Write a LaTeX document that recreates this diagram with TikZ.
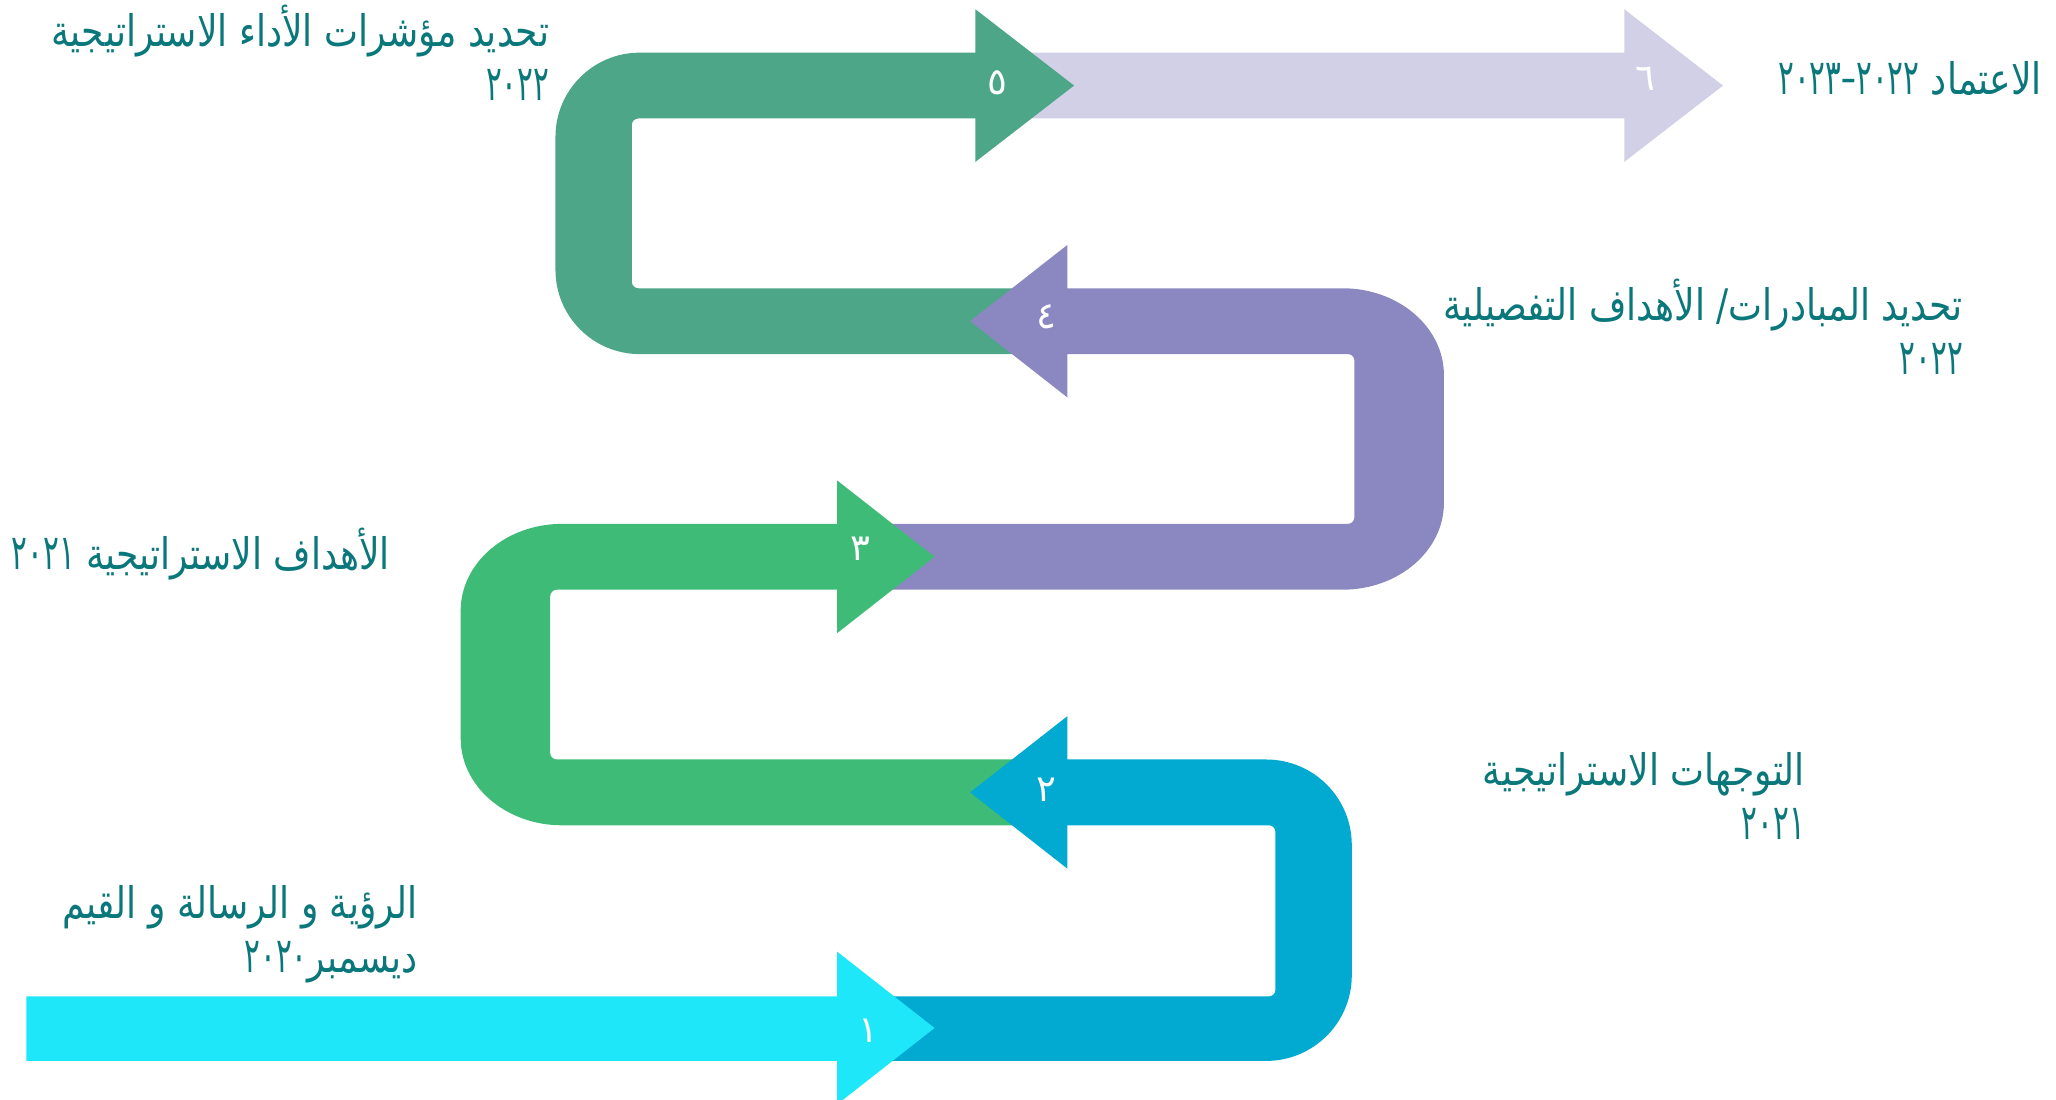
\documentclass[tikz,border=0pt]{standalone}
\usepackage{fontspec}
\usepackage{tikz}
\TeXXeTstate=1
\newfontfamily\arabicfont[Script=Arabic,FakeStretch=0.83]{DejaVu Sans}
\newfontfamily\yearfont[Script=Arabic,FakeStretch=0.6]{DejaVu Sans}
\newfontfamily\numfont[Script=Arabic]{DejaVu Sans}
\definecolor{stepone}{HTML}{1FE7FA}
\definecolor{steptwo}{HTML}{02A9D0}
\definecolor{stepthree}{HTML}{3EBB76}
\definecolor{stepfour}{HTML}{8B87C0}
\definecolor{stepfive}{HTML}{4DA688}
\definecolor{stepsix}{HTML}{D2D0E6}
\definecolor{labelteal}{HTML}{0A777B}

\begin{document}
\begin{tikzpicture}[x=0.1mm,y=0.1mm,
  num/.style={text=white,inner sep=0pt,font=\numfont\fontsize{8}{9}\selectfont},
  lbl/.style={text=labelteal,inner sep=0pt,anchor=east,align=right,font=\arabicfont\fontsize{9.4}{11.7}\selectfont},
  yr/.style={font=\yearfont\fontsize{10.6}{11.7}\selectfont}]
  \useasboundingbox (0,0) rectangle (1562,835);

  % 6: approval
  \fill[stepsix] (780,745) -- (1234,745) -- (1234,712) -- (1309,770) -- (1234,828) -- (1234,795) -- (780,795) -- cycle;
  % 5: KPIs
  \fill[stepfive] (780,566) -- (486,566) arc[start angle=270,end angle=180,radius=64] -- (422,731)
    arc[start angle=180,end angle=90,radius=64] -- (741,795) -- (741,828) -- (816,770) -- (741,712) -- (741,745)
    [rounded corners=0.5mm] -- (480,745) -- (480,616) -- (780,616) -- cycle;
  % 4: initiatives
  \fill[stepfour] (660,387) -- (1020,387) arc[start angle=270,end angle=360,x radius=77,y radius=66] -- (1097,550)
    arc[start angle=0,end angle=90,x radius=77,y radius=66] -- (811,616) -- (811,649) -- (737,591) -- (811,533) -- (811,566)
    [rounded corners=0.5mm] -- (1029,566) -- (1029,437) -- (660,437) -- cycle;
  % 3: objectives
  \fill[stepthree] (780,208) -- (427,208) arc[start angle=270,end angle=180,x radius=77,y radius=66] -- (350,371)
    arc[start angle=180,end angle=90,x radius=77,y radius=66] -- (636,437) -- (636,470) -- (710,412) -- (636,354) -- (636,387)
    [rounded corners=0.5mm] -- (418,387) -- (418,258) -- (780,258) -- cycle;
  % 2: directions
  \fill[steptwo] (660,29) -- (962,29) arc[start angle=270,end angle=360,radius=65] -- (1027,193)
    arc[start angle=0,end angle=90,radius=65] -- (811,258) -- (811,291) -- (737,233) -- (811,175) -- (811,208)
    [rounded corners=0.5mm] -- (969,208) -- (969,78) -- (660,78) -- cycle;
  % 1: vision
  \fill[stepone] (20,29) -- (636,29) -- (636,-4) -- (710,54) -- (636,112) -- (636,78) -- (20,78) -- cycle;

  % step numbers
  \node[num] (n1) at (660,52) {\beginR ١\endR};
  \node[num] (n2) at (795,235) {\beginR ٢\endR};
  \node[num] (n3) at (654,418) {\beginR ٣\endR};
  \node[num] (n4) at (795,594) {\beginR ٤\endR};
  \node[num] (n5) at (758,772) {\beginR ٥\endR};
  \node[num] (n6) at (1250,775) {\beginR ٦\endR};

  % labels
  \node[lbl] (l1) at (318,125) {\beginR الرؤية و الرسالة و القيم\endR\\\beginR ديسمبر{\yearfont\fontsize{10.6}{11.7}\selectfont ٢٠٢٠}\endR};
  \node[lbl] (l2) at (1372,230) {\beginR التوجهات الاستراتيجية\endR\\\beginR {\yearfont\fontsize{10.6}{11.7}\selectfont ٢٠٢١}\endR};
  \node[lbl] (l3) at (297,414) {\beginR الأهداف الاستراتيجية {\yearfont\fontsize{10.6}{11.7}\selectfont ٢٠٢١}\endR};
  \node[lbl] (l4) at (1492,587) {\beginR تحديد المبادرات/ الأهداف التفصيلية\endR\\\beginR {\yearfont\fontsize{10.6}{11.7}\selectfont ٢٠٢٢}\endR};
  \node[lbl] (l5) at (418,795) {\beginR تحديد مؤشرات الأداء الاستراتيجية\endR\\\beginR {\yearfont\fontsize{10.6}{11.7}\selectfont ٢٠٢٢}\endR};
  \node[lbl] (l6) at (1552,775) {\beginR الاعتماد {\yearfont\fontsize{10.6}{11.7}\selectfont ٢٠٢٢–٢٠٢٣}\endR};
\end{tikzpicture}
\end{document}
